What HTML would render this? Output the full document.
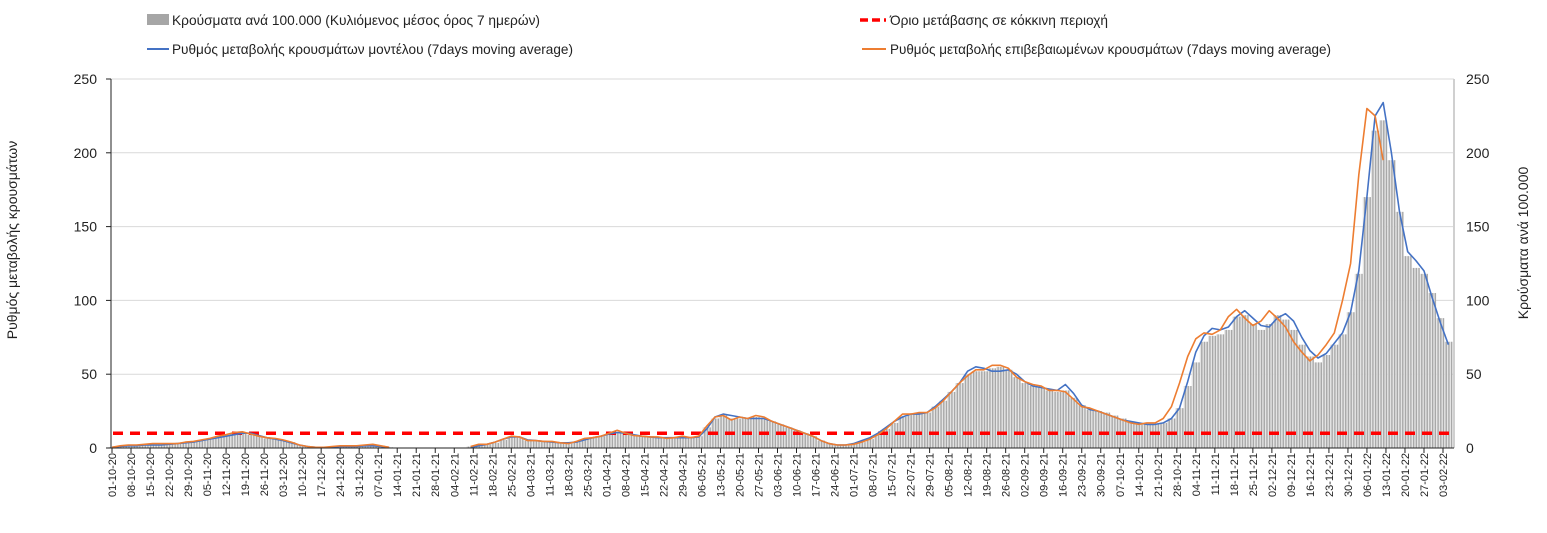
<!DOCTYPE html>
<html><head><meta charset="utf-8"><style>
html,body{margin:0;padding:0;background:#fff;}
svg{display:block;font-family:"Liberation Sans",sans-serif;}
</style></head><body>
<svg id="chart" width="1547" height="533" viewBox="0 0 1547 533" xmlns="http://www.w3.org/2000/svg">
<defs>
 <pattern id="barpat" patternUnits="userSpaceOnUse" x="112" y="0" width="2.716" height="10">
  <rect x="0" y="0" width="1.5" height="10" fill="#a8a8a8"/>
  <rect x="1.5" y="0" width="1.216" height="10" fill="#e4e4e4"/>
 </pattern>
</defs>
<g id="legend">
 <g><rect x="147" y="14" width="22" height="11" fill="#a6a6a6"/><text x="172" y="25" font-size="14" textLength="368" lengthAdjust="spacingAndGlyphs" fill="#222">Κρούσματα ανά 100.000 (Κυλιόμενος μέσος όρος 7 ημερών)</text></g>
 <g><line x1="860" y1="20" x2="886" y2="20" stroke="#ff0000" stroke-width="3.5" stroke-dasharray="8,4"/><text x="890" y="25" font-size="14" textLength="218" lengthAdjust="spacingAndGlyphs" fill="#222">Όριο μετάβασης σε κόκκινη περιοχή</text></g>
 <g><line x1="147" y1="49" x2="169" y2="49" stroke="#4472c4" stroke-width="2"/><text x="172" y="54" font-size="14" textLength="401" lengthAdjust="spacingAndGlyphs" fill="#222">Ρυθμός μεταβολής κρουσμάτων μοντέλου (7days moving average)</text></g>
 <g><line x1="862" y1="49" x2="886" y2="49" stroke="#ed7d31" stroke-width="2"/><text x="890" y="54" font-size="14" textLength="441" lengthAdjust="spacingAndGlyphs" fill="#222">Ρυθμός μεταβολής επιβεβαιωμένων κρουσμάτων (7days moving average)</text></g>
</g>
<text transform="translate(17,240) rotate(-90)" text-anchor="middle" font-size="14" fill="#222">Ρυθμός μεταβολής κρουσμάτων</text>
<text transform="translate(1528,243) rotate(-90)" text-anchor="middle" font-size="14" fill="#222">Κρούσματα ανά 100.000</text>
<g id="grid"></g><g id="bars"></g><g id="lines"></g><g id="axes"></g>
</svg>
<script>
const startDate = [2020, 10, 1];
const stepDays = 3;
const yTicks = [0, 50, 100, 150, 200, 250];
const threshold = 10;
const casesBars = [0.5,1,1.5,1.5,2,2.5,2.5,2.5,3,3.5,4,5,6,7,8,9.5,10,9,8,6.5,6,5,4,2,1,0.5,0.5,1,1.5,1.5,1.5,1.5,2,1.5,0.5,0,0,0,0,0,0,0,0,0,1,2,2.5,3.5,5.5,7.5,7,5,4.5,4.5,4,3.5,3,4,6,7,8,10,11,10,9,8,8,7.5,7,7,7.5,7,8,14,20,22,20,20,20,21,20,18,16,14,12,10,8,5,3,2,2,3,4,6,9,13,17,21,23,24,24,28,32,38,44,50,52,52,54,55,53,48,44,42,41,39,38,39,34,29,26,25,24,22,20,18,17,16,16,17,20,27,42,58,72,76,77,80,89,90,84,80,84,90,87,80,70,62,58,63,70,77,92,118,170,215,222,195,160,130,122,118,105,88,72];
const confirmedRate = [0.5,1.5,2,2,2.5,3,3,3,3,4,4.5,5.5,6.5,8,9,10.5,11,9.5,8,7,6.5,5.5,4,2,1,0.5,0.5,1,1.5,1.5,1.5,2,2.5,1.5,0.5,null,null,null,null,null,null,null,null,null,1,2.5,2.5,4,6,8,7.5,5,5,4.5,4.5,3.5,3,4.5,6.5,7,8,10,12,10,8.5,8,7.5,7.5,6.5,7,8,7,8,15,21,22,19,21,20,22,21,18,16,14,12,10,8,5,3,2,2,2.5,4,6,9,13,18,23,23,24,24,27,32,38,44,49,53,53,56,56,54,48,45,43,42,39,39,38,33,28,27,25,23,21,19,17,16,17,17,20,28,44,62,74,78,77,80,89,94,88,83,86,93,88,82,72,65,59,63,70,78,100,125,185,230,225,195,null,null,null,null,null,null,null];
const modelRate = [0.5,1,1.5,1.5,2,2,2,2.5,3,3.5,4,5,6,7,8,9,10,10,8.5,7,6,5,3.5,2,1,0.5,0.5,0.5,1,1,1,1.5,1.5,1,0.5,null,null,null,null,null,null,null,null,null,0.5,1.5,2.5,4,6,7.5,7.5,5.5,5,4.5,4,3.5,3.5,4,5.5,7,8,9.5,10.5,10,9,8,7.5,7,7,7,7,7,7.5,13,21,23,22,21,20,20,20,18,16,14,12,10,8,5,3,2,2,3,5,7,10,14,18,21,23,23,24,28,33,38,44,52,55,54,52,52,53,50,45,42,41,40,39,43,37,29,26,25,23,21,19,18,17,16,16,17,20,27,45,65,76,81,80,82,89,93,88,83,82,88,91,86,75,66,61,64,71,78,92,120,170,225,234,200,160,133,127,120,102,85,70];
const xLabelEvery = 7;
const totalDays = 490;

const svg = document.getElementById('chart');
const NS = 'http://www.w3.org/2000/svg';
const X0 = 112, PXD = (1443 - 112) / totalDays, Y0 = 448, YTOP = 79, YMAX = 250;
const xScale = d => X0 + d * PXD;
const yScale = v => Y0 - (v / YMAX) * (Y0 - YTOP);
function mk(tag, attrs, parent) { const e = document.createElementNS(NS, tag); for (const k in attrs) e.setAttribute(k, attrs[k]); parent.appendChild(e); return e; }
const grid = document.getElementById('grid'), bars = document.getElementById('bars'), lines = document.getElementById('lines'), axes = document.getElementById('axes');

yTicks.forEach(t => {
  const y = yScale(t);
  if (t > 0) {
    const g = mk('line', {x1: 111, x2: 1454, y1: y, y2: y, stroke: '#d9d9d9', 'stroke-width': 1}, grid);
    
    
  }
  const l = mk('text', {x: 97, y: y + 5, 'text-anchor': 'end', 'font-size': 14, fill: '#222'}, axes);
  l.textContent = t;
  
  
  const r = mk('text', {x: 1466, y: y + 5, 'font-size': 14, fill: '#222'}, axes);
  r.textContent = t;
  
  
  const tk = mk('line', {x1: 106, x2: 111, y1: y, y2: y, stroke: '#222'}, axes);
  
  
});
const la = mk('line', {x1: 111, x2: 111, y1: YTOP, y2: Y0, stroke: '#222'}, axes);


const ra = mk('line', {x1: 1454, x2: 1454, y1: YTOP, y2: Y0, stroke: '#d0d0d0', 'stroke-width': 2}, axes);


const xa = mk('line', {x1: 111, x2: 1454, y1: Y0, y2: Y0, stroke: '#222'}, axes);



const bw = stepDays * PXD;
casesBars.forEach((v, i) => {
  if (!v) return;
  const x = xScale(i * stepDays);
  const b = mk('rect', {x: x - bw / 2, y: yScale(v), width: bw, height: Y0 - yScale(v), fill: 'url(#barpat)'}, bars);
  
  
});

const th = mk('line', {x1: 113, x2: 1450, y1: yScale(threshold), y2: yScale(threshold), stroke: '#ff0000', 'stroke-width': 3.5, 'stroke-dasharray': '10,7'}, lines);



function pathOf(arr) {
  let d = '', pen = false;
  arr.forEach((v, i) => {
    if (v === null) { pen = false; return; }
    d += (pen ? 'L' : 'M') + xScale(i * stepDays).toFixed(1) + ',' + yScale(v).toFixed(1);
    pen = true;
  });
  return d;
}
const bl = mk('path', {d: pathOf(modelRate), fill: 'none', stroke: '#4472c4', 'stroke-width': 1.6, 'stroke-linejoin': 'round'}, lines);


const ol = mk('path', {d: pathOf(confirmedRate), fill: 'none', stroke: '#ed7d31', 'stroke-width': 1.6, 'stroke-linejoin': 'round'}, lines);



for (let d = 0; d <= totalDays; d += xLabelEvery) {
  const dt = new Date(startDate[0], startDate[1] - 1, startDate[2] + d);
  const s = String(dt.getDate()).padStart(2, '0') + '-' + String(dt.getMonth() + 1).padStart(2, '0') + '-' + String(dt.getFullYear() % 100).padStart(2, '0');
  const x = xScale(d);
  const tk = mk('line', {x1: x, x2: x, y1: Y0, y2: Y0 + 5, stroke: '#222'}, axes);
  
  
  const t = mk('text', {transform: 'translate(' + (x + 4) + ',' + (Y0 + 5) + ') rotate(-90)', 'text-anchor': 'end', 'font-size': 11, fill: '#222'}, axes);
  t.textContent = s;
  
  
}
</script>
</body></html>
